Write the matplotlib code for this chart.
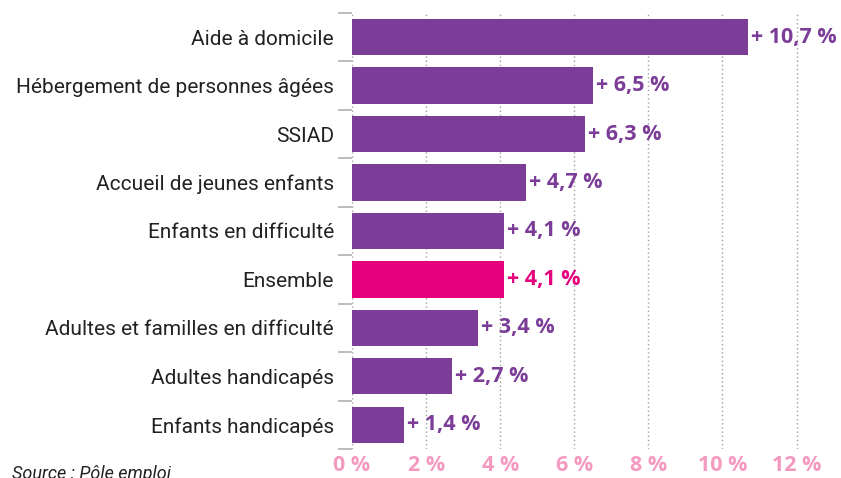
import numpy as np
import matplotlib.pyplot as plt

# Evolution de l'emploi par secteur
categories = ["Aide à domicile", "Hébergement de personnes âgées", "SSIAD",
              "Accueil de jeunes enfants", "Enfants en difficulté", "Ensemble",
              "Adultes et familles en difficulté", "Adultes handicapés",
              "Enfants handicapés"]
values = [10.7, 6.5, 6.3, 4.7, 4.1, 4.1, 3.4, 2.7, 1.4]
xticks = [0, 2, 4, 6, 8, 10, 12]

purple = "#7B3D97"
pink = "#E6007E"
colors = [pink if c == "Ensemble" else purple for c in categories]

plt.rcParams['font.family'] = ['Roboto', 'DejaVu Sans']

fig = plt.figure(figsize=(8.41, 4.78), dpi=100)
ax = fig.add_axes([352 / 841, 1 - 449 / 478, 1 - 352 / 841, 436 / 478])

y = np.arange(len(categories))
ax.barh(y, values, height=0.75, color=colors, zorder=2)
ax.set_ylim(len(categories) - 0.5, -0.5)
ax.set_xlim(0, 13.2)

for yi, v, c in zip(y, values, colors):
    ax.text(v + 0.08, yi, "+ " + f"{v:.1f}".replace(".", ",") + " %",
            va="center", ha="left", color=c, fontsize=15.5, fontweight="bold",
            family=["Open Sans", "DejaVu Sans"])

ax.set_yticks(y)
ax.set_yticklabels(categories, fontsize=15, color="#222222")
ax.tick_params(axis="y", which="major", length=0, pad=13)
ax.set_yticks(np.arange(-0.5, len(categories)), minor=True)
ax.tick_params(axis="y", which="minor", length=10, color="#b0b0b0", width=1.2)

ax.set_xticks(xticks)
ax.set_xticklabels([f"{t} %" for t in xticks], fontsize=15.5, fontweight="bold",
                   color="#F49AC1", family=["Open Sans", "DejaVu Sans"])
ax.tick_params(axis="x", length=0, pad=4.5)
ax.grid(axis="x", linestyle=(0, (1, 2)), color="#a0a0a0", linewidth=1, zorder=0)
for s in ax.spines.values():
    s.set_visible(False)

fig.text(12 / 841, -5 / 478, "Source : Pôle emploi", fontsize=13, style="italic",
         color="#222222", ha="left", va="bottom")

fig.savefig("out.png", dpi=100)
